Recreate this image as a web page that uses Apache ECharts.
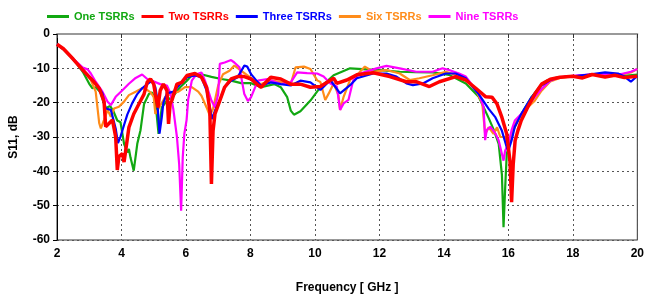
<!DOCTYPE html>
<html><head><meta charset="utf-8">
<script src="https://cdn.jsdelivr.net/npm/echarts@6/dist/echarts.min.js"></script>
<style>html,body{margin:0;padding:0;background:#fff}#c{width:647px;height:299px}</style>
</head><body><div id="c"></div>
<script>
const seriesNames = ['One TSRRs','Two TSRRs','Three TSRRs','Six TSRRs','Nine TSRRs'];
const xTicks = [2,4,6,8,10,12,14,16,18,20];
const yTicks = [0,-10,-20,-30,-40,-50,-60];

const oneF = [2,2.2,2.4,2.6,2.8,3.0,3.1,3.2,3.35,3.5,3.65,3.75,3.87,3.97,4.08,4.18,4.23,4.28,4.38,4.49,4.59,4.7,4.85,4.95,5.05,5.15,5.25,5.41,5.61,5.82,6.03,6.18,6.5,6.79,7.1,7.4,7.71,8.0,8.33,8.74,8.94,9.14,9.25,9.35,9.55,9.86,10.17,10.58,11.09,11.6,12.1,12.63,13.1,13.65,14.16,14.68,15.08,15.39,15.55,15.7,15.8,15.85,15.9,15.95,16.1,16.4,16.72,17.03,17.23,17.54,18.0,18.56,19.07,19.59,20];
const oneV = [-3,-4.5,-6.3,-8.5,-11,-14.5,-15.8,-15.5,-17,-21.6,-21,-22.5,-25.2,-25.7,-32,-34.5,-33.5,-36,-39.8,-32,-28,-20.4,-17.5,-17,-19.4,-29.1,-21.4,-19.4,-18,-15.5,-13.6,-12,-11.8,-12.5,-13.1,-13.6,-14.3,-14.3,-15.5,-14.6,-15.5,-18.4,-22.3,-23.5,-22.5,-19.4,-15.5,-12,-10,-10.3,-10.6,-11,-11.1,-11.2,-11.9,-14.4,-18.3,-24.5,-28,-32,-41,-56.3,-45,-35,-29,-23.3,-18.4,-14.6,-13.4,-12.6,-12.4,-11.8,-11.8,-12.2,-11.8];

const twoF = [2,2.2,2.5,2.8,3.0,3.15,3.31,3.46,3.51,3.62,3.72,3.82,3.87,3.92,4.03,4.08,4.13,4.23,4.38,4.54,4.7,4.8,4.9,5.0,5.05,5.13,5.2,5.3,5.41,5.46,5.51,5.56,5.72,5.87,6.03,6.28,6.48,6.64,6.74,6.79,6.84,6.9,7.05,7.2,7.4,7.6,7.81,8.02,8.2,8.33,8.63,8.94,9.25,9.55,9.86,10.17,10.58,10.68,10.99,11.3,11.81,12.32,12.84,13.14,13.55,13.86,14.37,14.68,14.99,15.3,15.49,15.65,15.8,15.95,16.05,16.1,16.15,16.21,16.3,16.4,16.6,16.82,17.03,17.3,17.6,18.0,18.3,18.6,19.0,19.3,19.6,20];
const twoV = [-3,-4.3,-7.3,-10.5,-12.5,-14,-15.8,-19.7,-27,-26,-25,-30,-39.6,-35.7,-34.8,-37.3,-34,-27.2,-23.3,-20.4,-17.5,-14,-13.1,-14.6,-17.5,-21.4,-16.5,-14.6,-16.5,-26.2,-20.2,-19.4,-14.6,-14.1,-12.1,-11.5,-12.6,-15.5,-22.3,-43.7,-28.2,-23.3,-19.4,-15.5,-13.1,-12.4,-12.4,-13.1,-14.6,-15.5,-12.6,-13.1,-14.6,-14.6,-15.5,-15.3,-12.9,-14.4,-13.4,-11.9,-11.3,-12.4,-13.9,-13.9,-15.3,-13.9,-12.4,-13.4,-15.8,-18.3,-18.4,-20.4,-24.3,-29.1,-37,-49,-38,-31,-28,-25.2,-21.3,-17.5,-14.6,-13.2,-12.6,-12.3,-12.8,-11.8,-12.5,-12.0,-12.7,-12.3];

const threeF = [2,2.2,2.5,2.8,3.0,3.15,3.31,3.41,3.51,3.67,3.82,3.89,3.97,4.08,4.18,4.33,4.49,4.64,4.8,4.95,5.05,5.1,5.18,5.25,5.3,5.41,5.61,5.82,6.03,6.28,6.48,6.64,6.74,6.81,6.9,7.05,7.2,7.4,7.6,7.81,7.9,8.02,8.23,8.33,8.63,8.94,9.25,9.55,9.86,10.17,10.48,10.6,10.78,11.09,11.3,11.81,12.22,12.53,12.84,13.04,13.35,13.65,14.06,14.37,14.68,14.88,15.08,15.39,15.6,15.8,15.95,16.0,16.1,16.2,16.4,16.72,17.03,17.3,17.6,18.0,18.5,19.0,19.4,19.6,19.8,20];
const threeV = [-3,-4.4,-7.3,-10.4,-12.4,-14,-15.8,-17.3,-21.7,-22.1,-27.5,-31.8,-29.9,-26.5,-23.5,-20.2,-17.5,-15.8,-14.6,-13.6,-15.5,-18.4,-29,-24.3,-20,-17.3,-16.8,-14.6,-12.6,-12.1,-12.6,-16.5,-21.4,-24.8,-22.3,-19.4,-15.5,-13.6,-12.6,-9.2,-9.5,-11.7,-14.1,-15,-14.1,-14.6,-15,-13.6,-14.1,-16.3,-13.4,-15,-17.3,-14.9,-12.9,-11.5,-11.5,-12.4,-14.4,-14.9,-14.4,-12.9,-11.5,-11.5,-12.9,-15.3,-17.5,-21.8,-24.3,-28.2,-33,-34,-31,-27,-23.3,-18.4,-15,-13.4,-12.6,-12.3,-11.8,-11.2,-11.5,-12.4,-13.9,-12.2];

const sixF = [2,2.2,2.5,2.8,2.9,3.05,3.2,3.31,3.36,3.46,3.57,3.67,3.77,3.92,4.08,4.23,4.44,4.64,4.75,4.9,5.0,5.05,5.1,5.15,5.36,5.56,5.77,5.97,6.18,6.38,6.48,6.64,6.74,6.84,7.0,7.15,7.35,7.5,7.71,7.92,8.12,8.33,8.63,8.94,9.25,9.4,9.66,9.86,10.07,10.17,10.32,10.43,10.58,10.73,10.78,10.89,11.09,11.35,11.55,11.81,12.22,12.63,12.94,13.24,13.65,14.06,14.37,14.68,14.99,15.19,15.28,15.39,15.54,15.65,15.75,15.9,16.0,16.1,16.2,16.5,16.82,17.03,17.3,17.6,18.0,18.5,19.0,19.5,19.8,20];
const sixV = [-3,-4.4,-7.3,-10.4,-11.5,-13.4,-16.8,-26,-27.5,-25,-22.1,-24.1,-21.7,-21.2,-19.7,-17.8,-16.8,-15.8,-16,-17,-18.3,-23.3,-23.6,-21.7,-18.3,-17.3,-16.8,-15.5,-15.5,-16.8,-18,-21.4,-23.8,-21.8,-15,-11.7,-10.7,-9.2,-10.7,-12.1,-13.6,-14.6,-13.5,-14,-14.6,-9.7,-9.5,-10.2,-13.5,-14,-19.2,-17.3,-14.4,-17.8,-22.1,-18.3,-13.4,-11.5,-9.5,-11,-10.5,-11.5,-13.4,-12.9,-12,-11,-11.9,-13.4,-16.3,-20.2,-29.1,-27.2,-29.1,-27.2,-30,-30,-32,-29,-26.2,-22.3,-19.4,-16.5,-13.8,-12.8,-12.3,-11.9,-11.7,-11.8,-11.2,-10.2];

const nineF = [2,2.2,2.5,2.8,2.95,3.05,3.2,3.41,3.57,3.67,3.82,4.03,4.23,4.44,4.64,4.8,4.95,5.2,5.41,5.51,5.61,5.72,5.79,5.85,5.9,5.95,6.02,6.07,6.18,6.33,6.48,6.59,6.69,6.79,6.9,7.0,7.05,7.2,7.4,7.5,7.66,7.81,7.92,8.02,8.23,8.53,8.94,9.25,9.45,9.76,10.07,10.27,10.48,10.68,10.78,10.89,11.04,11.19,11.4,11.91,12.22,12.63,13.14,13.65,13.96,14.16,14.47,14.68,14.88,15.08,15.23,15.28,15.33,15.44,15.6,15.7,15.85,15.9,16.0,16.1,16.2,16.4,16.6,16.82,17.03,17.3,17.6,18.0,18.5,19.0,19.5,19.8,20];
const nineV = [-3,-4.4,-7.2,-9.8,-10.3,-11.5,-13.9,-16.8,-19.7,-20.7,-18.3,-16.4,-14.5,-12.8,-11.8,-13.1,-13.6,-14.6,-15,-17,-22,-30,-38,-51.5,-36,-29,-25,-19,-13.6,-11.7,-11.2,-13.6,-16.5,-19.4,-21.4,-17.5,-8.7,-8.3,-7.6,-8.3,-9.7,-17.5,-19.5,-18.4,-13.6,-13.1,-14.6,-14.1,-11.2,-11.4,-11.5,-12.4,-14.4,-15.3,-22.1,-20.2,-19.2,-13.4,-11.5,-10,-9.3,-10,-11,-11,-10,-10.5,-11.5,-12.4,-14.9,-17.3,-21.2,-30.9,-28,-27,-29,-31,-36.9,-34,-32,-28,-25.2,-23.3,-20.9,-18.4,-16,-13.6,-12.6,-12.2,-11.8,-11.6,-11.7,-11,-10.2];

const colors = ['#12a812','#ff0000','#0000ff','#ff8c1a','#ff00ff'];
const widths = [2.2,3.5,2.2,2.2,2.2];
const allF = [oneF,twoF,threeF,sixF,nineF];
const allV = [oneV,twoV,threeV,sixV,nineV];
const drawOrder = [0,3,4,2,1];

const font = '"Liberation Sans", sans-serif';
const chart = echarts.init(document.getElementById('c'));
chart.setOption({
  animation:false,
  grid:{left:54,right:6,top:34,bottom:59,show:true,borderColor:'#333',borderWidth:1},
  legend:{
    top:6,left:42,itemWidth:22,itemHeight:3,itemGap:7,icon:'rect',
    textStyle:{fontFamily:font,fontWeight:'bold',fontSize:11},
    data:seriesNames.map((n,i)=>({name:n,textStyle:{color:colors[i]}}))
  },
  xAxis:{type:'value',min:xTicks[0],max:xTicks[xTicks.length-1],interval:2,
    name:'Frequency [ GHz ]',nameLocation:'middle',nameGap:42,
    nameTextStyle:{fontFamily:font,fontWeight:'bold',fontSize:12,color:'#000'},
    axisLine:{lineStyle:{color:'#999',width:2}},
    axisTick:{show:true,length:4,lineStyle:{color:'#333'}},
    axisLabel:{fontFamily:font,fontWeight:'bold',fontSize:12,color:'#000',margin:8},
    splitLine:{show:true,lineStyle:{color:'#555',type:[2,3],width:1}}
  },
  yAxis:{type:'value',min:yTicks[yTicks.length-1],max:yTicks[0],interval:10,
    name:'S11, dB',nameLocation:'middle',nameGap:37,nameRotate:90,
    nameTextStyle:{fontFamily:font,fontWeight:'bold',fontSize:12,color:'#000'},
    axisLine:{show:true,lineStyle:{color:'#000',width:1}},
    axisTick:{show:true,length:4,lineStyle:{color:'#000'}},
    axisLabel:{fontFamily:font,fontWeight:'bold',fontSize:12,color:'#000',margin:7},
    splitLine:{show:true,lineStyle:{color:'#555',type:[2,3],width:1}}
  },
  series:drawOrder.map(i=>({
    name:seriesNames[i],type:'line',showSymbol:false,symbol:'none',
    data:allF[i].map((f,k)=>[f,allV[i][k]]),
    lineStyle:{color:colors[i],width:widths[i]},itemStyle:{color:colors[i]},
    z:2+drawOrder.indexOf(i)
  }))
});
</script></body></html>
